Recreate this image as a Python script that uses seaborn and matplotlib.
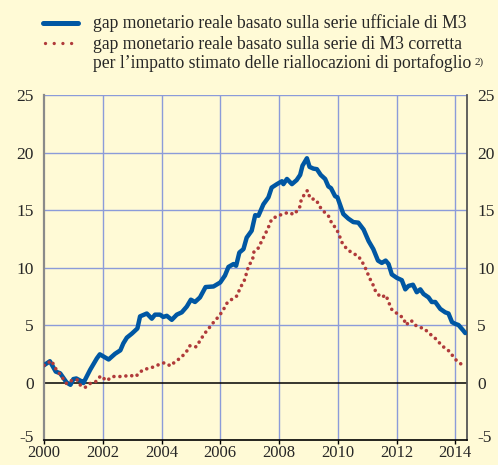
import matplotlib
matplotlib.use("Agg")
import matplotlib.pyplot as plt
import matplotlib.transforms as mtransforms
from matplotlib.lines import Line2D
import seaborn as sns
import pandas as pd

# gap monetario reale basato sulla serie ufficiale di M3
official_year = [2000.00, 2000.20, 2000.40, 2000.55, 2000.77, 2000.90, 2001.00, 2001.10, 2001.28, 2001.34,
                 2001.57, 2001.80, 2001.90, 2002.20, 2002.42, 2002.60, 2002.70, 2002.82, 2002.99, 2003.18,
                 2003.27, 2003.50, 2003.67, 2003.78, 2003.95, 2004.06, 2004.18, 2004.35, 2004.52, 2004.69,
                 2004.86, 2005.00, 2005.14, 2005.31, 2005.50, 2005.77, 2006.00, 2006.16, 2006.28, 2006.45,
                 2006.54, 2006.65, 2006.79, 2006.90, 2007.07, 2007.19, 2007.30, 2007.47, 2007.64, 2007.75,
                 2007.93, 2008.10, 2008.15, 2008.27, 2008.44, 2008.60, 2008.72, 2008.80, 2008.95, 2009.04,
                 2009.17, 2009.29, 2009.42, 2009.57, 2009.68, 2009.77, 2009.91, 2009.99, 2010.08, 2010.19,
                 2010.36, 2010.53, 2010.70, 2010.88, 2011.05, 2011.21, 2011.37, 2011.50, 2011.63, 2011.73,
                 2011.84, 2012.01, 2012.18, 2012.30, 2012.41, 2012.56, 2012.69, 2012.81, 2012.92, 2013.09,
                 2013.20, 2013.32, 2013.49, 2013.66, 2013.77, 2013.89, 2014.00, 2014.11, 2014.28, 2014.34]
official_gap = [1.5, 1.85, 0.95, 0.8, 0.0, -0.2, 0.3, 0.35, 0.1, -0.05,
                1.1, 2.1, 2.45, 2.0, 2.5, 2.8, 3.4, 3.9, 4.25, 4.7,
                5.75, 6.0, 5.55, 5.9, 5.9, 5.7, 5.8, 5.45, 5.9, 6.1,
                6.6, 7.2, 7.0, 7.4, 8.3, 8.35, 8.7, 9.3, 10.05, 10.3,
                10.15, 11.3, 11.6, 12.6, 13.2, 14.55, 14.5, 15.5, 16.1, 16.95,
                17.25, 17.5, 17.25, 17.7, 17.25, 17.6, 18.05, 18.85, 19.5, 18.75,
                18.6, 18.55, 18.05, 17.7, 17.05, 16.9, 16.2, 16.1, 15.45, 14.65,
                14.25, 13.95, 13.9, 13.3, 12.3, 11.6, 10.6, 10.4, 10.6, 10.3,
                9.4, 9.1, 8.9, 8.1, 8.4, 8.5, 7.85, 8.1, 7.7, 7.4,
                7.0, 7.0, 6.4, 6.1, 6.0, 5.25, 5.1, 5.0, 4.5, 4.3]

# gap monetario reale basato sulla serie di M3 corretta
corrected_year = [2000.00, 2000.26, 2000.37, 2000.52, 2000.64, 2000.77, 2000.94, 2001.13, 2001.25, 2001.40,
                  2001.59, 2001.77, 2001.93, 2002.13, 2002.33, 2002.50, 2002.70, 2002.90, 2003.13, 2003.24,
                  2003.41, 2003.59, 2003.75, 2003.93, 2004.10, 2004.31, 2004.46, 2004.63, 2004.83, 2004.97,
                  2005.18, 2005.45, 2005.62, 2005.78, 2005.96, 2006.10, 2006.24, 2006.43, 2006.58, 2006.67,
                  2006.81, 2006.90, 2006.96, 2007.10, 2007.15, 2007.30, 2007.41, 2007.53, 2007.64, 2007.75,
                  2007.96, 2008.15, 2008.32, 2008.51, 2008.70, 2008.75, 2008.87, 2008.97, 2009.06, 2009.26,
                  2009.40, 2009.57, 2009.71, 2009.80, 2009.95, 2010.05, 2010.15, 2010.31, 2010.50, 2010.70,
                  2010.85, 2010.97, 2011.07, 2011.20, 2011.30, 2011.48, 2011.64, 2011.73, 2011.84, 2012.07,
                  2012.24, 2012.32, 2012.50, 2012.63, 2012.78, 2012.94, 2013.12, 2013.28, 2013.44, 2013.62,
                  2013.78, 2013.92, 2014.03, 2014.20]
corrected_gap = [1.5, 1.9, 1.3, 0.8, 0.37, -0.1, 0.17, 0.23, -0.28, -0.43,
                 -0.05, 0.09, 0.58, 0.15, 0.52, 0.52, 0.52, 0.63, 0.52, 0.86,
                 1.15, 1.23, 1.38, 1.58, 1.72, 1.44, 1.81, 2.1, 2.6, 3.2,
                 3.1, 4.2, 4.74, 5.26, 5.78, 6.3, 6.95, 7.3, 7.55, 8.2,
                 8.8, 9.55, 10.1, 10.7, 11.4, 11.7, 12.3, 12.9, 13.5, 14.2,
                 14.5, 14.65, 14.8, 14.6, 15.2, 15.8, 16.4, 16.7, 16.0, 15.9,
                 15.25, 14.75, 14.4, 13.8, 13.4, 12.8, 12.15, 11.6, 11.25, 11.0,
                 10.4, 9.8, 9.15, 8.5, 7.85, 7.4, 7.6, 7.0, 6.35, 5.9,
                 5.6, 5.0, 5.4, 5.0, 4.8, 4.7, 4.25, 3.95, 3.5, 3.05,
                 2.75, 2.3, 1.95, 1.6]

x_ticks = [2000, 2002, 2004, 2006, 2008, 2010, 2012, 2014]
y_ticks = [-5, 0, 5, 10, 15, 20, 25]

label_official = "gap monetario reale basato sulla serie ufficiale di M3"
label_corrected = ["gap monetario reale basato sulla serie di M3 corretta",
                   "per l\u2019impatto stimato delle riallocazioni di portafoglio"]

bg = "#fffad6"
blue = "#0057a3"
red = "#b03a3a"
grid_col = "#8b9bd9"

sns.set_style("white", {"axes.facecolor": bg, "figure.facecolor": bg})
plt.rcParams["font.family"] = ["Liberation Serif", "DejaVu Serif"]
plt.rcParams["axes.unicode_minus"] = False

official_df = pd.DataFrame({"year": official_year, "gap": official_gap})
corrected_df = pd.DataFrame({"year": corrected_year, "gap": corrected_gap})

W, H = 498, 465
fig = plt.figure(figsize=(W / 100, H / 100), dpi=100)
# plot area: x from 44 to 467 px, y from 95 to 440 px
ax = fig.add_axes([44 / W, 1 - 440 / H, 423 / W, 345 / H])

# grid
for xv in x_ticks[1:]:
    ax.axvline(xv, color=grid_col, lw=1.0, zorder=1)
for yv in y_ticks[2:]:
    ax.axhline(yv, color=grid_col, lw=1.0, zorder=1)
ax.axhline(0, color="black", lw=1.1, zorder=2)

sns.lineplot(data=official_df, x="year", y="gap", sort=False, ax=ax,
             color=blue, lw=3.2, zorder=3, legend=False)
sns.lineplot(data=corrected_df, x="year", y="gap", sort=False, ax=ax,
             color=red, lw=2.6, zorder=4, legend=False)
ax.lines[-1].set_dashes((0.01, 1.65))
ax.lines[-1].set_dash_capstyle("round")

ax.set_xlim(2000, 2014.4)
ax.set_ylim(-5, 25)
ax.set_xticks(x_ticks)
ax.set_yticks(y_ticks)
ax.set_xlabel("")
ax.set_ylabel("")

ax.tick_params(axis="x", direction="out", length=3, width=1, color="black",
               labelsize=12, pad=0.5, bottom=True)
ax.tick_params(axis="y", length=0, labelsize=12.5, left=False, right=False,
               labelleft=True, labelright=True)
for t in ax.yaxis.get_major_ticks():
    t.set_pad(7.5)

# nudge the lowest y labels up a little so they clear the year labels
fig.canvas.draw()
lift = mtransforms.ScaledTranslation(0, 3 / 72, fig.dpi_scale_trans)
bottom_tick = ax.yaxis.get_major_ticks()[0]
for lab in (bottom_tick.label1, bottom_tick.label2):
    lab.set_transform(lab.get_transform() + lift)

ax.spines["top"].set_visible(False)
ax.spines["bottom"].set_color("black")
ax.spines["bottom"].set_linewidth(1.2)
ax.spines["left"].set_color("#8a8a8a")
ax.spines["left"].set_linewidth(1.6)
ax.spines["right"].set_color("#555555")
ax.spines["right"].set_linewidth(1.3)

# legend drawn in figure coordinates
fig.add_artist(Line2D([43 / W, 78 / W], [1 - 22.7 / H, 1 - 22.7 / H],
                      transform=fig.transFigure, color=blue, lw=3.6))
fig.add_artist(Line2D([44.5 / W, 78 / W], [1 - 43.3 / H, 1 - 43.3 / H],
                      transform=fig.transFigure, color=red, lw=2.4,
                      dashes=(0.01, 2.6), dash_capstyle="round"))
fs = 12.7
fig.text(93 / W, 1 - 28 / H, label_official, fontsize=fs, va="baseline")
fig.text(93 / W, 1 - 49.3 / H, label_corrected[0], fontsize=fs, va="baseline")
t3 = fig.text(93 / W, 1 - 68.3 / H, label_corrected[1], fontsize=fs, va="baseline")
fig.canvas.draw()
bb = t3.get_window_extent()
fig.text((bb.x1 + 3) / W, 1 - 65 / H, "2)", fontsize=8, va="baseline")

fig.savefig("out.png", dpi=100, facecolor=bg)
